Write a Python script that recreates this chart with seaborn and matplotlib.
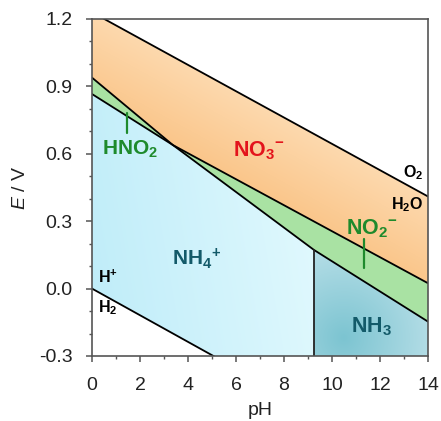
import numpy as np
import matplotlib
matplotlib.use("Agg")
import matplotlib.pyplot as plt
import seaborn as sns
from matplotlib.colors import to_rgb

# ---- data ----
ph_o2 = [0.0, 14.0]
E_o2 = [1.23, 0.41]
ph_h2 = [0.0, 14.0]
E_h2 = [0.0, -0.83]
ph_upper = [0.0, 3.37, 14.0]          # NO3-/HNO2 , NO3-/NO2-
E_upper = [0.939, 0.639, 0.024]
ph_lower = [0.0, 3.37, 9.25, 14.0]     # HNO2/NH4+ , NO2-/NH4+ , NO2-/NH3
E_lower = [0.866, 0.639, 0.172, -0.147]
pKa_nh4 = 9.25
xticks = [0, 2, 4, 6, 8, 10, 12, 14]
yticks = [-0.3, 0.0, 0.3, 0.6, 0.9, 1.2]
ytick_labels = ["-0.3", "0.0", "0.3", "0.6", "0.9", "1.2"]

sns.set_style("ticks")
plt.rcParams["font.family"] = ["Liberation Sans", "DejaVu Sans"]
plt.rcParams["mathtext.fontset"] = "custom"
plt.rcParams["mathtext.rm"] = "Liberation Sans"
plt.rcParams["mathtext.bf"] = "Liberation Sans:bold"
plt.rcParams["mathtext.it"] = "Liberation Sans:italic"

fig = plt.figure(figsize=(4.41, 4.21), dpi=100)
ax = fig.add_axes([0.2086, 0.1544, 0.9705 - 0.2086, 0.9549 - 0.1544])

XMIN, XMAX, YMIN, YMAX = 0, 14, -0.3, 1.2
g = np.linspace(XMIN, XMAX, 1401)
up = np.interp(g, ph_upper, E_upper)
lo = np.interp(g, ph_lower, E_lower)
o2 = np.minimum(np.interp(g, ph_o2, E_o2), YMAX)
h2 = np.maximum(np.interp(g, ph_h2, E_h2), YMIN)

# gradient helper
ny, nx = 400, 500
PX, EY = np.meshgrid(np.linspace(XMIN, XMAX, nx), np.linspace(YMIN, YMAX, ny))

def grad_img(c0, c1, t):
    t = np.clip(t, 0, 1)[..., None]
    a = np.array(to_rgb(c0)); b = np.array(to_rgb(c1))
    return a * (1 - t) + b * t

def region(y1, y2, where, img, z):
    poly = ax.fill_between(g, y1, y2, where=where, facecolor="none",
                           edgecolor="none", interpolate=True)
    im = ax.imshow(img, extent=[XMIN, XMAX, YMIN, YMAX], origin="lower",
                   aspect="auto", zorder=z, interpolation="bilinear")
    im.set_clip_path(poly.get_paths()[0], ax.transData)

# NO3- (orange)
u = EY + 0.059 * PX
region(up, o2, np.ones_like(g, bool),
       grad_img("#fac487", "#fdd9ae", (u - 0.80) / (1.23 - 0.80)), 1)
# nitrite / HNO2 band (green)
ax.fill_between(g, lo, up, facecolor="#a9e2a3", edgecolor="none", zorder=1)
# NH4+ (light cyan)
region(h2, lo, g <= pKa_nh4 + 1e-9,
       grad_img("#c0edf9", "#e4fafe", PX / pKa_nh4 * 0.85 + EY * 0.15), 1)
# NH3 (teal)
d = np.sqrt(((PX - 10.5) / 5.5) ** 2 + ((EY + 0.22) / 0.6) ** 2)
region(np.full_like(g, YMIN), lo, g >= pKa_nh4 - 1e-9,
       grad_img("#7cc4d1", "#d0eaf1", d), 1)

# boundary lines
lw = 1.3
for xs, ys in [(ph_o2, E_o2), (ph_h2, E_h2), (ph_upper, E_upper), (ph_lower, E_lower)]:
    sns.lineplot(x=xs, y=ys, color="black", lw=lw, ax=ax, estimator=None,
                 sort=False, zorder=3)
sns.lineplot(x=[pKa_nh4, pKa_nh4], y=[YMIN, float(np.interp(pKa_nh4, ph_lower, E_lower))],
             color="#222222", lw=lw, ax=ax, estimator=None, sort=False, zorder=3)

# labels of species
red = "#e3141c"; grn = "#1e8a2c"; teal = "#135a69"
ax.text(6.95, 0.590, r"$\mathbf{NO_3{}^{-}}$", color=red, fontsize=15.5, ha="center",
        va="baseline", zorder=5)
ax.text(1.58, 0.595, r"$\mathbf{HNO_2}$", color=grn, fontsize=15, ha="center",
        va="baseline", zorder=5)
ax.plot([1.46, 1.46], [0.693, 0.782], color=grn, lw=1.6, zorder=5)
ax.text(10.6, 0.239, r"$\mathbf{NO_2{}^{-}}$", color=grn, fontsize=15.5, ha="left",
        va="baseline", zorder=5)
ax.plot([11.33, 11.33], [0.092, 0.221], color=grn, lw=1.6, zorder=5)
ax.text(3.33, 0.105, r"$\mathbf{NH_4{}^{+}}$", color=teal, fontsize=15, ha="left",
        va="baseline", zorder=5)
ax.text(10.8, -0.193, r"$\mathbf{NH_3}$", color=teal, fontsize=15.5, ha="left",
        va="baseline", zorder=5)
ax.text(12.95, 0.497, r"$\mathbf{O_2}$", color="black", fontsize=11.5, ha="left",
        va="baseline", zorder=5)
ax.text(12.45, 0.354, r"$\mathbf{H_2O}$", color="black", fontsize=11.5, ha="left",
        va="baseline", zorder=5)
ax.text(0.25, 0.025, r"$\mathbf{H^{+}}$", color="black", fontsize=11.5, ha="left",
        va="baseline", zorder=5)
ax.text(0.25, -0.104, r"$\mathbf{H_2}$", color="black", fontsize=11.5, ha="left",
        va="baseline", zorder=5)

ax.set_xlim(XMIN, XMAX)
ax.set_ylim(YMIN, YMAX)
ax.set_xticks(xticks)
ax.set_yticks(yticks)
ax.set_yticklabels(ytick_labels)
ax.set_xticks(np.arange(1, 14, 2), minor=True)
ax.set_yticks([-0.2, -0.1, 0.1, 0.2, 0.4, 0.5, 0.7, 0.8, 1.0, 1.1], minor=True)
spc = "#555555"
for s in ax.spines.values():
    s.set_color(spc)
    s.set_linewidth(1.2)
    s.set_visible(True)
    s.set_zorder(6)
ax.tick_params(which="major", direction="out", length=4, width=1.1, color=spc,
               labelsize=14, labelcolor="#222222")
ax.tick_params(axis="y", which="major", pad=10)
ax.tick_params(axis="x", which="major", pad=11)
ax.tick_params(which="minor", direction="out", length=2.5, width=1.0, color=spc)
ax.set_xlabel("pH", fontsize=14, color="#222222", labelpad=6)
ax.set_ylabel(r"$\mathit{E}$ / V", fontsize=14, color="#222222", labelpad=7)

fig.savefig("out.png", dpi=100)
